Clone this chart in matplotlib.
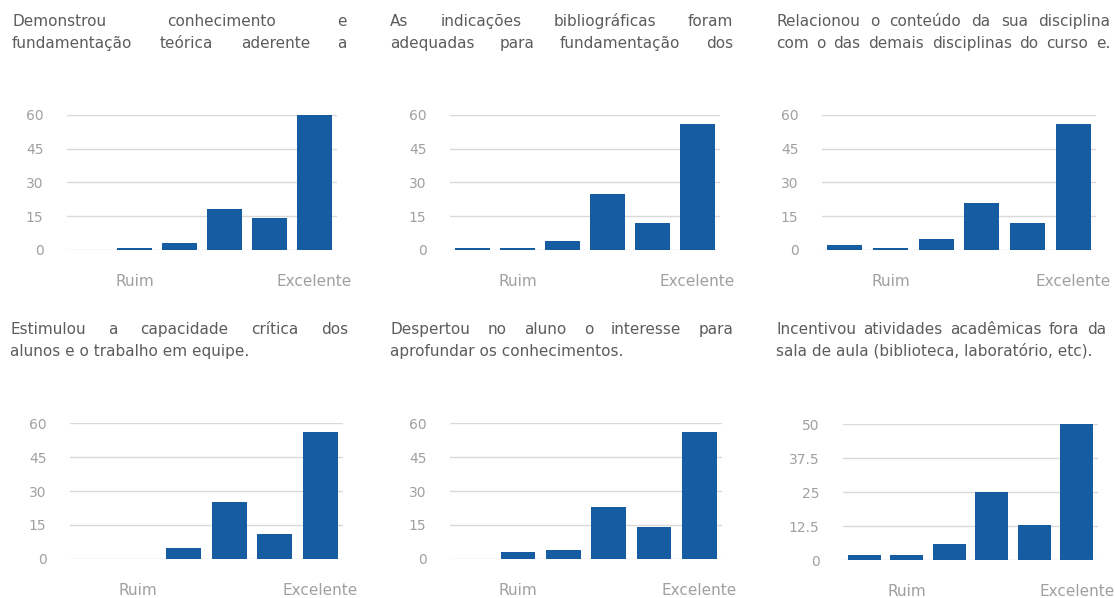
import numpy as np
import matplotlib
matplotlib.use("Agg")
import matplotlib.pyplot as plt

# answers per category, from "Ruim" to "Excelente"
x_labels = ["", "Ruim", "", "", "", "Excelente"]

q1_values = [0, 1, 3, 18, 14, 60]
q2_values = [1, 1, 4, 25, 12, 56]
q3_values = [2, 1, 5, 21, 12, 56]
q4_values = [0, 0, 5, 25, 11, 56]
q5_values = [0, 3, 4, 23, 14, 56]
q6_values = [2, 2, 6, 25, 13, 50]

ticks_60 = [0, 15, 30, 45, 60]
ticks_50 = [0, 12.5, 25, 37.5, 50]
tick_labels_60 = ["0", "15", "30", "45", "60"]
tick_labels_50 = ["0", "12.5", "25", "37.5", "50"]

# each title line: (text, justified)
q1_title = [("Demonstrou conhecimento e", True),
            ("fundamentação teórica aderente a", True)]
q2_title = [("As indicações bibliográficas foram", True),
            ("adequadas para fundamentação dos", True)]
q3_title = [("Relacionou o conteúdo da sua disciplina", True),
            ("com o das demais disciplinas do curso e.", True)]
q4_title = [("Estimulou a capacidade crítica dos", True),
            ("alunos e o trabalho em equipe.", False)]
q5_title = [("Despertou no aluno o interesse para", True),
            ("aprofundar os conhecimentos.", False)]
q6_title = [("Incentivou atividades acadêmicas fora da", True),
            ("sala de aula (biblioteca, laboratório, etc).", False)]

W, H = 1115, 598
BAR_COLOR = "#165ca3"
TITLE_COLOR = "#5c5c5c"
TICK_COLOR = "#a0a0a0"
FONT = "DejaVu Sans"

fig = plt.figure(figsize=(W / 100, H / 100), dpi=100)
renderer = fig.canvas.get_renderer()


def write_line(text, x0, x1, y, justify):
    kw = dict(fontsize=11, color=TITLE_COLOR, family=FONT, va="baseline", ha="left")
    if not justify:
        fig.text(x0 / W, 1 - y / H, text, **kw)
        return
    words = text.split()
    texts = [fig.text(0, 0, w, **kw) for w in words]
    widths = [t.get_window_extent(renderer).width for t in texts]
    gap = (x1 - x0 - sum(widths)) / (len(words) - 1)
    x = x0
    for t, w in zip(texts, widths):
        t.set_position((x / W, 1 - y / H))
        x += w + gap


def draw_panel(values, title, ticks, tick_labels, box, text_span, text_y):
    left, top, right, bottom = box
    ax = fig.add_axes([left / W, 1 - bottom / H, (right - left) / W, (bottom - top) / H])
    x = np.arange(len(values))
    ax.bar(x, values, width=0.77, color=BAR_COLOR, zorder=3)
    ax.set_xlim(-0.5, len(values) - 0.5)
    ax.set_ylim(0, ticks[-1])
    ax.set_yticks(ticks)
    ax.set_yticklabels(tick_labels, color=TICK_COLOR, fontsize=10, family=FONT)
    ax.set_xticks(x)
    ax.set_xticklabels(x_labels, color=TICK_COLOR, fontsize=11, family=FONT)
    ax.tick_params(axis="y", length=0, pad=17)
    ax.tick_params(axis="x", length=0, pad=17)
    ax.grid(axis="y", color="#d9d9d9", linewidth=1, zorder=0)
    for s in ax.spines.values():
        s.set_visible(False)

    for i, (line, justify) in enumerate(title):
        write_line(line, text_span[0], text_span[1], text_y + 22 * i, justify)


draw_panel(q1_values, q1_title, ticks_60, tick_labels_60, (67, 115, 337, 250), (12, 347), 26)
draw_panel(q2_values, q2_title, ticks_60, tick_labels_60, (450, 115, 720, 250), (390, 733), 26)
draw_panel(q3_values, q3_title, ticks_60, tick_labels_60, (822, 115, 1096, 250), (776, 1110), 26)
draw_panel(q4_values, q4_title, ticks_60, tick_labels_60, (70, 423, 343, 559), (10, 348), 334)
draw_panel(q5_values, q5_title, ticks_60, tick_labels_60, (450, 423, 722, 559), (390, 734), 334)
draw_panel(q6_values, q6_title, ticks_50, tick_labels_50, (843, 424, 1098, 560), (776, 1106), 334)

fig.savefig("out.png", dpi=100)
plt.close()
